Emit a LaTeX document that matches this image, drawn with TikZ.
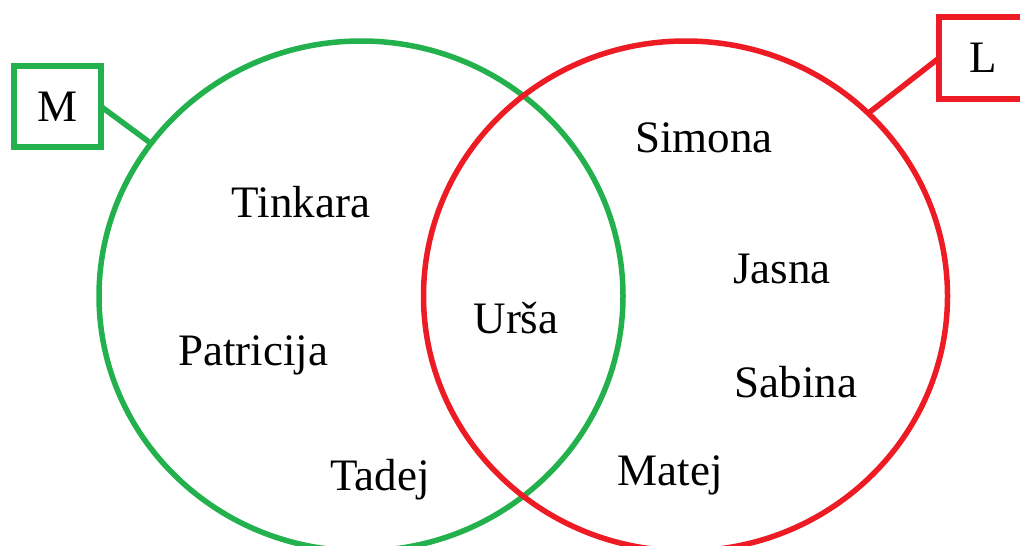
\documentclass[tikz,border=0pt]{standalone}
\usepackage{fontspec}
\setmainfont{Liberation Serif}
\usetikzlibrary{shapes.geometric}
\definecolor{vgreen}{RGB}{34,177,76}
\definecolor{vred}{RGB}{237,28,36}
\begin{document}
\begin{tikzpicture}[x=1pt,y=-1pt,
  setcircle/.style={draw,ellipse,line width=5.5pt,inner sep=0pt,outer sep=0pt,minimum width=524pt,minimum height=510pt},
  labelbox/.style={draw,rectangle,line width=5.5pt,inner sep=0pt,outer sep=0pt,minimum width=87pt,minimum height=81pt,font=\fontsize{45}{54}\selectfont},
  personname/.style={anchor=base,inner sep=0pt,font=\fontsize{45}{54}\selectfont},
  link/.style={line width=5.5pt}]
\useasboundingbox (0,0) rectangle (1020,546);
\clip (0,0) rectangle (1020,546);
\fill[white] (0,0) rectangle (1020,546);
\node[setcircle,vgreen] (G) at (361,296) {};
\node[setcircle,vred] (R) at (685.5,296) {};
\node[labelbox,vgreen,text=black] (M) at (57.5,106.5) {M};
\node[labelbox,vred,text=black,minimum width=88pt,minimum height=82pt] (L) at (983,58) {L};
\draw[link,vgreen] (M.east) -- (G.144.7);
\draw[link,vred] (L.west) -- (R.45.5);
\node[personname] (t1) at (301,217) {Tinkara};
\node[personname] (t2) at (253,365) {Patricija};
\node[personname] (t3) at (380,490) {Tadej};
\node[personname] (t4) at (516,333) {Urša};
\node[personname] (t5) at (704,152) {Simona};
\node[personname] (t6) at (782,283) {Jasna};
\node[personname] (t7) at (796,397) {Sabina};
\node[personname] (t8) at (670,485) {Matej};
\end{tikzpicture}
\end{document}
